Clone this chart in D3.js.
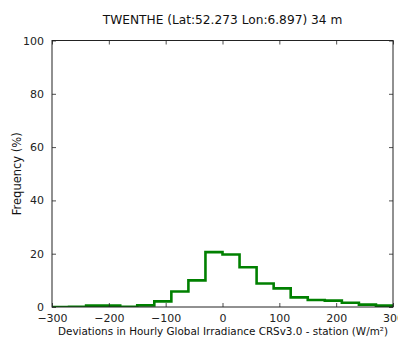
<!DOCTYPE html>
<html>
<head>
<meta charset="utf-8">
<script src="https://cdn.jsdelivr.net/npm/d3@7/dist/d3.min.js"></script>
<style>
  html, body { margin: 0; padding: 0; background: #fff; }
  svg { display: block; font-family: "DejaVu Sans", sans-serif; }
</style>
</head>
<body>
<svg id="chart" width="398" height="342"></svg>
<script>
// Histogram bin edges (W/m²), 30 W/m² wide
const binEdges = [-300, -270, -240, -210, -180, -150, -120, -90, -60, -30, 0,
                  30, 60, 90, 120, 150, 180, 210, 240, 270, 300];
// Frequency (%) in each bin
const frequencies = [0.0, 0.1, 0.5, 0.5, 0.1, 0.6, 2.1, 5.8, 10.0, 20.6,
                     19.7, 14.9, 8.8, 7.0, 3.6, 2.6, 2.4, 1.6, 0.9, 0.5];
const xTicks = [-300, -200, -100, 0, 100, 200, 300];
const yTicks = [0, 20, 40, 60, 80, 100];

const titleText = "TWENTHE (Lat:52.273 Lon:6.897) 34 m";
const xLabelText = "Deviations in Hourly Global Irradiance CRSv3.0 - station (W/m\u00B2)";
const yLabelText = "Frequency (%)";

const svg = d3.select("#chart");
const plot = { left: 52, right: 393, top: 40.5, bottom: 307 };

const x = d3.scaleLinear().domain([-300, 300]).range([plot.left, plot.right]);
const y = d3.scaleLinear().domain([0, 100]).range([plot.bottom, plot.top]);

svg.append("defs").append("clipPath").attr("id", "plotClip")
  .append("rect")
  .attr("x", plot.left).attr("y", plot.top)
  .attr("width", plot.right - plot.left).attr("height", plot.bottom - plot.top);

// Step outline of the histogram
const pts = [[binEdges[0], 0]];
frequencies.forEach((f, i) => {
  pts.push([binEdges[i], f]);
  pts.push([binEdges[i + 1], f]);
});
pts.push([binEdges[binEdges.length - 1], 0]);

svg.append("path")
  .attr("clip-path", "url(#plotClip)")
  .attr("d", d3.line().x(d => x(d[0])).y(d => y(d[1]))(pts))
  .attr("fill", "none")
  .attr("stroke", "#008000")
  .attr("stroke-width", 2.6)
  .attr("stroke-linejoin", "miter");

// Axes with inward ticks on all four sides
const tickLen = 4;
const tickColor = "#222";
const fontSize = 11;

const bottomAxis = d3.axisBottom(x).tickValues(xTicks).tickSizeInner(-tickLen).tickSizeOuter(0)
  .tickPadding(tickLen + 3).tickFormat(d => d3.format("d")(d).replace("-", "\u2212"));
const gB = svg.append("g").attr("transform", `translate(0,${plot.bottom})`).call(bottomAxis);

const topAxis = d3.axisTop(x).tickValues(xTicks).tickSizeInner(-tickLen).tickSizeOuter(0).tickFormat("");
const gT = svg.append("g").attr("transform", `translate(0,${plot.top})`).call(topAxis);

const leftAxis = d3.axisLeft(y).tickValues(yTicks).tickSizeInner(-tickLen).tickSizeOuter(0)
  .tickPadding(tickLen + 4);
const gL = svg.append("g").attr("transform", `translate(${plot.left},0)`).call(leftAxis);

const rightAxis = d3.axisRight(y).tickValues(yTicks).tickSizeInner(-tickLen).tickSizeOuter(0).tickFormat("");
const gR = svg.append("g").attr("transform", `translate(${plot.right},0)`).call(rightAxis);

[gB, gT, gL, gR].forEach(g => {
  g.select(".domain").remove();
  g.selectAll(".tick line").attr("stroke", tickColor).attr("stroke-width", 0.8);
  g.selectAll(".tick text").attr("fill", "#222").style("font-size", fontSize + "px")
    .style("font-family", "DejaVu Sans, sans-serif");
});

// Plot frame
svg.append("rect")
  .attr("x", plot.left).attr("y", plot.top)
  .attr("width", plot.right - plot.left).attr("height", plot.bottom - plot.top)
  .attr("fill", "none").attr("stroke", "#222").attr("stroke-width", 1);

// Shrink a text's font until it fits the given width
function fitText(sel, width, maxSize) {
  let size = maxSize;
  sel.style("font-size", size + "px");
  while (sel.node().getComputedTextLength() > width && size > 6) {
    size -= 0.1;
    sel.style("font-size", size + "px");
  }
  return sel;
}

// Title and axis labels
const title = svg.append("text")
  .attr("x", (plot.left + plot.right) / 2).attr("y", 24)
  .attr("text-anchor", "middle").attr("fill", "#111")
  .text(titleText);
fitText(title, 240, 13);

const xLabel = svg.append("text")
  .attr("x", (plot.left + plot.right) / 2 + 0.5).attr("y", 335)
  .attr("text-anchor", "middle").attr("fill", "#111")
  .text(xLabelText);
fitText(xLabel, 331, 12);

svg.append("text")
  .attr("transform", `translate(21,${(plot.top + plot.bottom) / 2}) rotate(-90)`)
  .attr("text-anchor", "middle").attr("fill", "#111")
  .style("font-size", "11.5px").text(yLabelText);
</script>
</body>
</html>
